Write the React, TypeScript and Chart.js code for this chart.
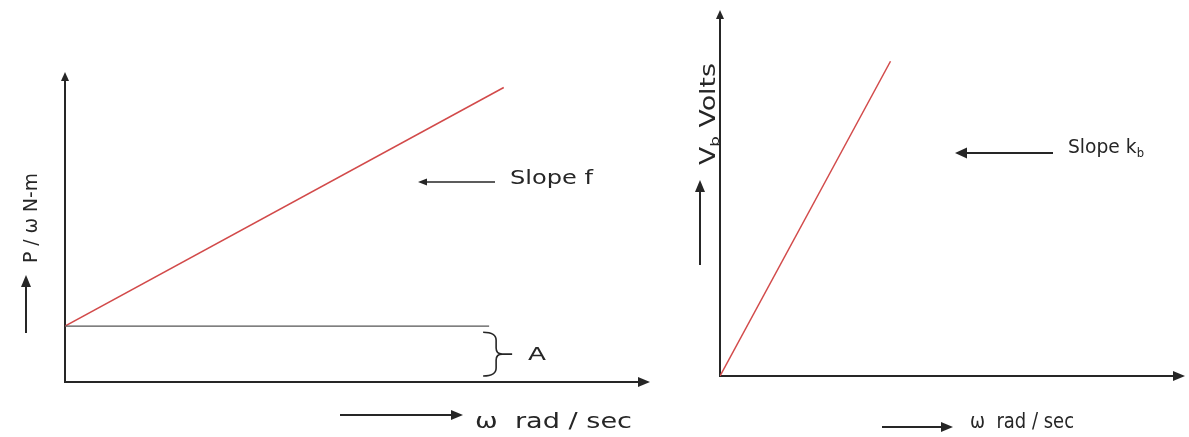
import React, { useEffect, useRef } from "react";
import { Chart, registerables } from "chart.js";

Chart.register(...registerables);

// ---- data (arbitrary units) ----
const torqueOmega = [0, 9.0];          // ω rad/sec
const torquePerOmega = [1.8, 9.5];     // P/ω N-m
const frictionOmega = [0, 8.7];
const frictionLevel = [1.8, 1.8];      // constant A
const emfOmega = [0, 4.4];             // ω rad/sec
const emfVolts = [0, 8.6];             // V_b Volts
const leftRange = [12, 10];            // x max, y max
const rightRange = [12, 10];

const FONT = "'DejaVu Sans', Verdana, sans-serif";
const INK = "#262626";
const RED = "#d24a4a";

type Part = { t: string; sub?: boolean };

function fitText(
  ctx: CanvasRenderingContext2D,
  parts: Part[],
  x: number,
  y: number,
  size: number,
  width: number,
  rotate = false
) {
  ctx.save();
  let total = 0;
  for (const p of parts) {
    ctx.font = `${p.sub ? size * 0.62 : size}px ${FONT}`;
    total += ctx.measureText(p.t).width;
  }
  const s = width / total;
  ctx.translate(x, y);
  if (rotate) ctx.rotate(-Math.PI / 2);
  ctx.scale(s, 1);
  ctx.fillStyle = INK;
  ctx.textBaseline = "alphabetic";
  ctx.textAlign = "left";
  let cx = 0;
  for (const p of parts) {
    ctx.font = `${p.sub ? size * 0.62 : size}px ${FONT}`;
    ctx.fillText(p.t, cx, p.sub ? size * 0.18 : 0);
    cx += ctx.measureText(p.t).width;
  }
  ctx.restore();
}

function arrow(
  ctx: CanvasRenderingContext2D,
  x1: number,
  y1: number,
  x2: number,
  y2: number,
  lw: number,
  head: number,
  half: number
) {
  const a = Math.atan2(y2 - y1, x2 - x1);
  const bx = x2 - head * Math.cos(a);
  const by = y2 - head * Math.sin(a);
  ctx.save();
  ctx.strokeStyle = INK;
  ctx.fillStyle = INK;
  ctx.lineWidth = lw;
  ctx.beginPath();
  ctx.moveTo(x1, y1);
  ctx.lineTo(bx, by);
  ctx.stroke();
  ctx.beginPath();
  ctx.moveTo(x2, y2);
  ctx.lineTo(bx + half * Math.sin(a), by - half * Math.cos(a));
  ctx.lineTo(bx - half * Math.sin(a), by + half * Math.cos(a));
  ctx.closePath();
  ctx.fill();
  ctx.restore();
}

function axesPlugin(id: string) {
  return {
    id,
    beforeDatasetsDraw(chart: any) {
      const { ctx, chartArea: a } = chart;
      arrow(ctx, a.left, a.bottom + 1, a.left, a.top, 2, 9, 4);
      arrow(ctx, a.left - 1, a.bottom, a.right, a.bottom, 2, 12, 5);
    },
  };
}

const leftDecor = {
  id: "leftDecor",
  afterDraw(chart: any) {
    const { ctx } = chart;
    const xs = chart.scales.x;
    const ys = chart.scales.y;
    // brace for A
    const bx = xs.getPixelForValue(frictionOmega[1]) - 6;
    const top = ys.getPixelForValue(frictionLevel[0]) + 6;
    const bot = ys.getPixelForValue(0) - 6;
    const mid = (top + bot) / 2;
    const vx = bx + 13;
    ctx.save();
    ctx.strokeStyle = INK;
    ctx.lineWidth = 1.6;
    ctx.beginPath();
    ctx.moveTo(bx, top);
    ctx.quadraticCurveTo(vx, top, vx, top + 8);
    ctx.lineTo(vx, mid - 6);
    ctx.quadraticCurveTo(vx, mid, vx + 6, mid);
    ctx.lineTo(vx + 16, mid);
    ctx.moveTo(vx + 6, mid);
    ctx.quadraticCurveTo(vx, mid, vx, mid + 6);
    ctx.lineTo(vx, bot - 8);
    ctx.quadraticCurveTo(vx, bot, bx, bot);
    ctx.stroke();
    ctx.restore();
    fitText(ctx, [{ t: "A" }], 528, 360, 18, 18);
    // slope f
    arrow(ctx, 495, 182, 418, 182, 1.5, 9, 3.5);
    fitText(ctx, [{ t: "Slope f" }], 510, 184, 20, 83);
    // x label
    arrow(ctx, 340, 415, 463, 415, 2, 12, 5);
    fitText(ctx, [{ t: "ω  rad / sec" }], 475, 428, 21, 157);
    // y label
    arrow(ctx, 26, 333, 26, 275, 2, 12, 5);
    fitText(ctx, [{ t: "P / ω N-m" }], 37, 263, 20, 90, true);
  },
};

const rightDecor = {
  id: "rightDecor",
  afterDraw(chart: any) {
    const { ctx } = chart;
    arrow(ctx, 1053, 153, 955, 153, 2, 12, 5.5);
    fitText(ctx, [{ t: "Slope k" }, { t: "b", sub: true }], 1068, 153, 20, 76);
    arrow(ctx, 882, 427, 953, 427, 2, 12, 5);
    fitText(ctx, [{ t: "ω  rad / sec" }], 970, 428, 21, 104);
    arrow(ctx, 700, 265, 700, 180, 2, 12, 5);
    fitText(ctx, [{ t: "V" }, { t: "b", sub: true }, { t: " Volts" }], 715, 165, 21, 102, true);
  },
};

function toPts(xs: number[], ys: number[]) {
  return xs.map((x, i) => ({ x, y: ys[i] }));
}

function baseOptions(xMax: number, yMax: number, padding: any) {
  return {
    animation: false as const,
    responsive: false,
    maintainAspectRatio: false,
    devicePixelRatio: 1,
    events: [] as any[],
    layout: { padding },
    plugins: { legend: { display: false }, tooltip: { enabled: false } },
    scales: {
      x: { type: "linear" as const, min: 0, max: xMax, display: false },
      y: { type: "linear" as const, min: 0, max: yMax, display: false },
    },
  };
}

export default function App() {
  const leftRef = useRef<HTMLCanvasElement>(null);
  const rightRef = useRef<HTMLCanvasElement>(null);

  useEffect(() => {
    const left = new Chart(leftRef.current!, {
      type: "line",
      data: {
        datasets: [
          {
            data: toPts(frictionOmega, frictionLevel),
            borderColor: "#555",
            borderWidth: 1.2,
            pointRadius: 0,
          },
          {
            data: toPts(torqueOmega, torquePerOmega),
            borderColor: RED,
            borderWidth: 1.5,
            pointRadius: 0,
          },
        ],
      },
      options: baseOptions(leftRange[0], leftRange[1], {
        left: 65,
        top: 72,
        right: 1189 - 650,
        bottom: 437 - 382,
      }),
      plugins: [axesPlugin("leftAxes"), leftDecor],
    });
    const right = new Chart(rightRef.current!, {
      type: "line",
      data: {
        datasets: [
          {
            data: toPts(emfOmega, emfVolts),
            borderColor: RED,
            borderWidth: 1.5,
            pointRadius: 0,
          },
        ],
      },
      options: baseOptions(rightRange[0], rightRange[1], {
        left: 720,
        top: 10,
        right: 4,
        bottom: 437 - 376,
      }),
      plugins: [axesPlugin("rightAxes"), rightDecor],
    });
    return () => {
      left.destroy();
      right.destroy();
    };
  }, []);

  const cs: React.CSSProperties = { position: "absolute", left: 0, top: 0, display: "block" };
  return (
    <div style={{ position: "absolute", left: 0, top: 0, width: 1189, height: 437, background: "#fff" }}>
      <canvas ref={leftRef} width={1189} height={437} style={cs} />
      <canvas ref={rightRef} width={1189} height={437} style={cs} />
    </div>
  );
}
